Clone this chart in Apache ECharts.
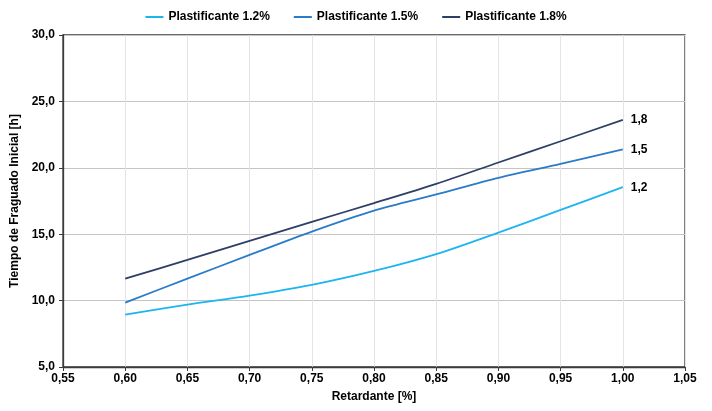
<!DOCTYPE html>
<html>
<head>
<meta charset="utf-8">
<script src="https://cdn.jsdelivr.net/npm/echarts@6/dist/echarts.min.js"></script>
<style>html,body{margin:0;padding:0;background:#fff}#c{width:712px;height:411px}</style>
</head>
<body>
<div id="c"></div>
<script>
const retardante = [0.60, 0.65, 0.70, 0.75, 0.80, 0.85, 0.90, 0.95, 1.00];
const plast12 = [8.94, 9.69, 10.37, 11.18, 12.23, 13.5, 15.12, 16.83, 18.54];
const plast15 = [9.85, 11.65, 13.44, 15.2, 16.78, 18.0, 19.25, 20.3, 21.38];
const plast18 = [11.65, 13.06, 14.5, 15.93, 17.34, 18.79, 20.4, 22.0, 23.61];
const seriesNames = ['Plastificante 1.2%', 'Plastificante 1.5%', 'Plastificante 1.8%'];
const endLabels = ['1,2', '1,5', '1,8'];
const colors = ['#1CB5F0', '#2A7BC8', '#2E3E66'];

const font = 'Liberation Sans, Arial, sans-serif';
const allData = [plast12, plast15, plast18];
const chart = echarts.init(document.getElementById('c'));
chart.setOption({
  animation: false,
  color: colors,
  legend: {
    top: 6, left: 'center',
    itemWidth: 18, itemHeight: 2, itemGap: 24,
    icon: 'rect',
    textStyle: {fontFamily: font, fontWeight: 'bold', fontSize: 12, color: '#000'},
    data: seriesNames
  },
  grid: {left: 63, right: 27, top: 35, bottom: 44, show: true, borderColor: '#3a3a3a', borderWidth: 1.3},
  xAxis: {
    type: 'value', min: 0.55, max: 1.05, interval: 0.05,
    name: 'Retardante [%]', nameLocation: 'middle', nameGap: 24,
    nameTextStyle: {fontFamily: font, fontWeight: 'bold', fontSize: 12, color: '#000'},
    axisLine: {show: true, lineStyle: {color: '#3a3a3a', width: 1.3}},
    axisTick: {show: true, length: 4, lineStyle: {color: '#3a3a3a'}},
    axisLabel: {fontFamily: font, fontWeight: 'bold', fontSize: 12, color: '#000', margin: 6,
      formatter: v => v.toFixed(2).replace('.', ',')},
    splitLine: {show: true, lineStyle: {color: '#e4e4e4', width: 1}}
  },
  yAxis: {
    type: 'value', min: 5, max: 30, interval: 5,
    name: 'Tiempo de Fraguado Inicial [h]', nameLocation: 'middle', nameGap: 39,
    nameTextStyle: {fontFamily: font, fontWeight: 'bold', fontSize: 12, color: '#000'},
    axisLine: {show: true, lineStyle: {color: '#3a3a3a', width: 1.3}},
    axisTick: {show: true, length: 4, lineStyle: {color: '#3a3a3a'}},
    axisLabel: {fontFamily: font, fontWeight: 'bold', fontSize: 12, color: '#000', margin: 8,
      formatter: v => v.toFixed(1).replace('.', ',')},
    splitLine: {show: true, lineStyle: {color: '#c4c4c4', width: 1}}
  },
  series: allData.map((d, i) => ({
    name: seriesNames[i],
    type: 'line',
    smooth: 0.3,
    showSymbol: false,
    lineStyle: {width: 1.8, color: colors[i]},
    data: d.map((v, j) => [retardante[j], v]),
    endLabel: {show: true, formatter: endLabels[i], fontFamily: font, fontWeight: 'bold', fontSize: 12, color: '#000', distance: 8}
  }))
});
</script>
</body>
</html>
